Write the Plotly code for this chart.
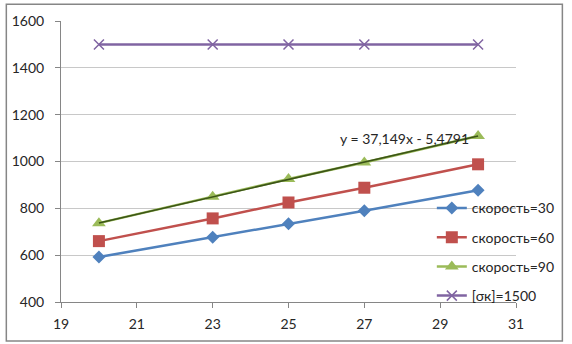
import numpy as np
import plotly.graph_objects as go

# Thickness values on the x axis
x_vals = [20, 23, 25, 27, 30]

# Stress for each cutting speed
speed_30 = [592, 676, 734, 790, 877]
speed_60 = [660, 757, 825, 888, 988]
speed_90 = [736.8006, 849, 925.5, 996, 1108.929]
limit_1500 = [1500, 1500, 1500, 1500, 1500]

series_names = ["скорость=30", "скорость=60", "скорость=90", "[σк]=1500"]
x_ticks = [19, 21, 23, 25, 27, 29, 31]
y_ticks = [400, 600, 800, 1000, 1200, 1400, 1600]

BLUE = "#4F81BD"
RED = "#C0504D"
GREEN = "#9BBB59"
PURPLE = "#8064A2"
TREND = "#3B5417"
FONT = "Lato"
TXT = "#262626"

W, H = 572, 344
ML, MR, MT, MB = 57, 49, 18, 41

# Linear trend for the 90 series
slope, intercept = np.polyfit(x_vals, speed_90, 1)
trend_x = [x_vals[0], x_vals[-1]]
trend_y = [slope * v + intercept for v in trend_x]
sign = "-" if intercept < 0 else "+"
trend_label = f"y = {slope:.3f}x {sign} {abs(intercept):.4f}".replace(".", ",")

fig = go.Figure()

fig.add_trace(go.Scatter(
    x=x_vals, y=speed_30, name=series_names[0], mode="lines+markers",
    line=dict(color=BLUE, width=2.5),
    marker=dict(symbol="diamond", size=10, color=BLUE),
    legendgroup="a",
))
fig.add_trace(go.Scatter(
    x=x_vals, y=speed_60, name=series_names[1], mode="lines+markers",
    line=dict(color=RED, width=2.5),
    marker=dict(symbol="square", size=12, color=RED),
    legendgroup="b",
))
fig.add_trace(go.Scatter(
    x=x_vals, y=speed_90, name=series_names[2], mode="lines+markers",
    line=dict(color=GREEN, width=2.5),
    marker=dict(symbol="triangle-up", size=12, color=GREEN),
    legendgroup="c",
))
fig.add_trace(go.Scatter(
    x=trend_x, y=trend_y, mode="lines", showlegend=False,
    line=dict(color=TREND, width=1.5), hoverinfo="skip",
))
fig.add_trace(go.Scatter(
    x=x_vals, y=limit_1500, name=series_names[3], mode="lines+markers",
    line=dict(color=PURPLE, width=2.5),
    marker=dict(symbol="x-thin", size=10, color=PURPLE,
                line=dict(color=PURPLE, width=1.5)),
    legendgroup="d",
))

fig.add_annotation(
    x=26.31, y=1100, xref="x", yref="y", text=trend_label,
    showarrow=False, xanchor="left", yanchor="middle",
    font=dict(family=FONT, size=14, color=TXT),
)

# Outer chart border
pw, ph = W - ML - MR, H - MT - MB
fig.add_shape(
    type="rect", xref="paper", yref="paper",
    x0=-(ML - 1) / pw, x1=1 + (MR - 1.5) / pw,
    y0=-(MB - 1.5) / ph, y1=1 + (MT - 1) / ph,
    line=dict(color="#868686", width=1.5), fillcolor="rgba(0,0,0,0)",
    layer="below",
)

fig.update_layout(
    width=W, height=H,
    margin=dict(l=ML, r=MR, t=MT, b=MB, pad=0),
    paper_bgcolor="white", plot_bgcolor="white",
    font=dict(family=FONT, size=14, color=TXT),
    showlegend=True,
    legend=dict(
        x=0.815, y=0.39, xanchor="left", yanchor="top",
        bgcolor="rgba(0,0,0,0)", borderwidth=0,
        font=dict(family=FONT, size=14, color=TXT),
        itemwidth=30, tracegroupgap=8, traceorder="grouped",
    ),
    xaxis=dict(
        range=[19, 31], tickvals=x_ticks, showgrid=False, zeroline=False,
        showline=True, linecolor="#868686", linewidth=1,
        ticks="outside", ticklen=5, tickcolor="#868686",
        ticklabelstandoff=4,
    ),
    yaxis=dict(
        range=[400, 1600], tickvals=y_ticks, showgrid=True,
        gridcolor="#C8C8C8", gridwidth=1, zeroline=False,
        showline=True, linecolor="#868686", linewidth=1,
        ticks="outside", ticklen=5, tickcolor="#868686",
        ticklabelstandoff=8,
    ),
)

fig.write_html("out.html")
